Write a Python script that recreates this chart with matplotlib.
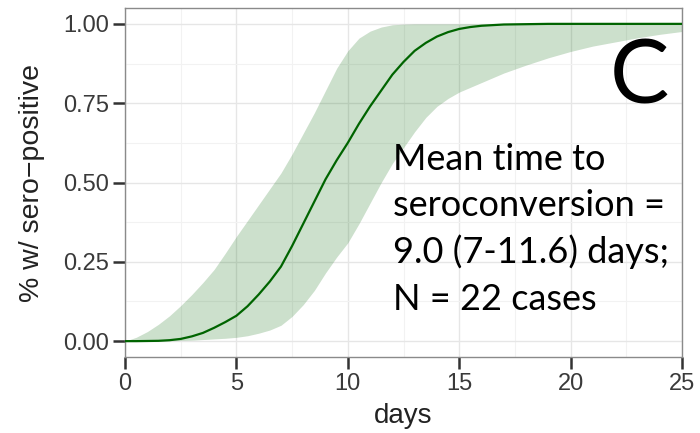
import matplotlib
matplotlib.use("Agg")
import matplotlib.pyplot as plt

# data
days = [0, 0.5, 1, 1.5, 2, 2.5, 3, 3.5, 4, 4.5, 5, 5.5, 6, 6.5, 7, 7.5, 8, 8.5, 9, 9.5,
        10, 10.5, 11, 11.5, 12, 12.5, 13, 13.5, 14, 14.5, 15, 15.5, 16, 16.5, 17,
        18, 19, 20, 21, 22, 23, 24, 25]
mean_curve = [0.0, 0.0, 0.0005, 0.001, 0.003, 0.007, 0.015, 0.026, 0.042, 0.06, 0.08, 0.11,
              0.147, 0.188, 0.235, 0.3, 0.37, 0.44, 0.51, 0.57, 0.625, 0.685, 0.74, 0.79,
              0.84, 0.88, 0.915, 0.94, 0.96, 0.974, 0.984, 0.99, 0.994, 0.996, 0.998,
              0.999, 1.0, 1.0, 1.0, 1.0, 1.0, 1.0, 1.0]
upper_band = [0.0, 0.012, 0.03, 0.053, 0.08, 0.112, 0.147, 0.185, 0.226, 0.277, 0.33, 0.38,
              0.43, 0.48, 0.53, 0.59, 0.655, 0.72, 0.79, 0.86, 0.915, 0.955, 0.977, 0.99,
              0.997, 0.999, 1.0, 1.0, 1.0, 1.0, 1.0, 1.0, 1.0, 1.0, 1.0,
              1.0, 1.0, 1.0, 1.0, 1.0, 1.0, 1.0, 1.0]
lower_band = [0.0, 0.0, 0.0, 0.0, 0.001, 0.002, 0.003, 0.005, 0.007, 0.009, 0.012, 0.017,
              0.025, 0.035, 0.05, 0.078, 0.115, 0.16, 0.215, 0.265, 0.31, 0.37, 0.435, 0.5,
              0.56, 0.61, 0.66, 0.705, 0.74, 0.765, 0.785, 0.8, 0.815, 0.83, 0.845,
              0.87, 0.893, 0.913, 0.93, 0.943, 0.956, 0.967, 0.976]
x_ticks = [0, 5, 10, 15, 20, 25]
y_ticks = [0.0, 0.25, 0.5, 0.75, 1.0]
y_tick_labels = ["0.00", "0.25", "0.50", "0.75", "1.00"]
annotation_lines = ["Mean time to", "seroconversion =", "9.0 (7-11.6) days;", "N = 22 cases"]
panel_letter = "C"

fig = plt.figure(figsize=(7.0, 4.33), dpi=100)
ax = fig.add_axes([125 / 700, 1 - 357 / 433, (682 - 125) / 700, (357 - 8) / 433])

ax.fill_between(days, lower_band, upper_band, color=(0, 100 / 255, 0), alpha=0.2, linewidth=0, zorder=2)
ax.plot(days, mean_curve, color="#006400", linewidth=1.6, zorder=3)

ax.set_xlim(0, 25)
ax.set_ylim(-0.05, 1.05)
ax.set_xticks(x_ticks)
ax.set_xticklabels([str(t) for t in x_ticks])
ax.set_yticks(y_ticks)
ax.set_yticklabels(y_tick_labels)
ax.set_xticks([2.5, 7.5, 12.5, 17.5, 22.5], minor=True)
ax.set_yticks([0.125, 0.375, 0.625, 0.875], minor=True)

ax.grid(which="major", color="#e6e6e6", linewidth=1.0, zorder=0)
ax.grid(which="minor", color="#f2f2f2", linewidth=0.8, zorder=0)
ax.set_axisbelow(True)

for s in ax.spines.values():
    s.set_color("#8a8a8a")
    s.set_linewidth(1.0)

ax.tick_params(which="major", direction="out", length=8.5, width=1.8, color="#333333",
               labelsize=17, labelcolor="#3a3a3a", pad=3)
ax.tick_params(which="minor", length=0)
for lab in ax.get_xticklabels() + ax.get_yticklabels():
    lab.set_family("Liberation Sans")

ax.set_xlabel("days", fontsize=20, family="Liberation Sans", color="#222222", labelpad=6)
ax.set_ylabel("% w/ sero\u2212positive", fontsize=20.5, family="Liberation Sans", color="#222222",
              labelpad=13)

baselines = [170, 216, 263, 310]
for line, yb in zip(annotation_lines, baselines):
    fig.text(393 / 700, 1 - yb / 433, line, fontsize=26, family="Lato", color="black",
             ha="left", va="baseline")
fig.text(669 / 700, 1 - 103 / 433, panel_letter, fontsize=64, family="Lato", color="black",
         ha="right", va="baseline")

fig.savefig("out.png", dpi=100)
